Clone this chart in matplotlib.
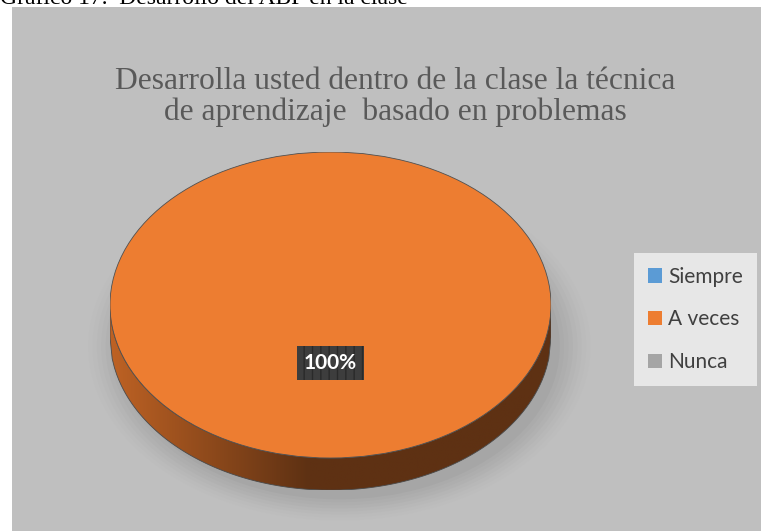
import numpy as np
import matplotlib.pyplot as plt
from matplotlib.patches import Rectangle, Polygon, Ellipse

categories = ["Siempre", "A veces", "Nunca"]
values = [0, 100, 0]
colors = ["#5b9bd5", "#ed7d31", "#a5a5a5"]
chart_title = "Desarrolla usted dentro de la clase la técnica\nde aprendizaje  basado en problemas"
caption = "Gráfico 17.  Desarrollo del ABP en la clase"

W, H = 761, 531
fig = plt.figure(figsize=(W / 100, H / 100), dpi=100)
fig.patch.set_facecolor("white")


def px(x0, y0, x1, y1):
    # pixel box (top-left origin) -> figure rect
    return [x0 / W, 1 - y1 / H, (x1 - x0) / W, (y1 - y0) / H]


# gray chart area
bg = fig.add_axes(px(12, 7, W, H), zorder=0)
bg.set_axis_off()
bg.add_patch(Rectangle((0, 0), 1, 1, transform=bg.transAxes,
                       facecolor="#bfbfbf", edgecolor="none"))

fig.text(0.0, 1 - 4 / H, caption, family="Liberation Serif", fontsize=17,
         color="black", va="baseline", ha="left")
fig.text(395 / W, 1 - 120 / H, chart_title, family="Liberation Serif",
         fontsize=22.7, color="#595959", ha="center", va="baseline",
         linespacing=1.05)

# pie axes: top face ellipse spans 110..551 x, 152..458 y, side depth to 490
depth = 0.21
ax = fig.add_axes(px(110, 152, 551, 152 + 306 + 306 * depth / 2), zorder=2)
ax.set_axis_off()
ax.patch.set_visible(False)

# soft shadow under the pie
for i, a in enumerate(np.linspace(0.06, 0.015, 8)):
    s = 1 + i * 0.02
    ax.add_patch(Ellipse((0.04, -depth - 0.06), 2 * s, 2 * s, facecolor="#6e6e6e",
                         alpha=a, edgecolor="none", zorder=0, clip_on=False))

# side of the 3D disk with a horizontal gradient
xs = np.linspace(-1, 1, 200)
lower = -np.sqrt(1 - xs ** 2)
side = np.concatenate([np.c_[xs, lower], np.c_[xs[::-1], lower[::-1] - depth]])
poly = Polygon(side, closed=True, facecolor="none", edgecolor="#4a4a4a",
               linewidth=0.6, zorder=2)
ax.add_patch(poly)
grad = np.linspace(0, 1, 256)
c_left = np.array([190, 98, 36]) / 255
c_dark = np.array([94, 49, 19]) / 255
t = np.clip(grad / 0.45, 0, 1)[:, None]
img = (c_left * (1 - t) + c_dark * t)[None, :, :]
im = ax.imshow(img, extent=[-1, 1, -1 - depth, 0], aspect="auto", zorder=1)
im.set_clip_path(poly)

wedges, texts, autotexts = ax.pie(
    values, colors=colors, startangle=90, counterclock=False, radius=1,
    autopct=lambda p: f"{p:.0f}%" if p > 1 else "", pctdistance=0.38,
    wedgeprops=dict(linewidth=0),
    textprops=dict(color="white", fontsize=15, weight="bold", family="Lato"))
for w in wedges:
    w.set_zorder(3)
ax.add_patch(Ellipse((0, 0), 2, 2, facecolor="none", edgecolor="#505050",
                     linewidth=0.6, zorder=4))
for t_ in autotexts:
    t_.set_zorder(5)
    t_.set_bbox(dict(boxstyle="square,pad=0.35", facecolor="#3d3d3d",
                     edgecolor="#2a2a2a", hatch="||", linewidth=0))

ax.set_aspect("auto")
ax.set_xlim(-1, 1)
ax.set_ylim(-1 - depth, 1)

# legend
leg = fig.legend(wedges, categories, loc="upper left",
                 bbox_to_anchor=(634 / W, 1 - 253 / H), frameon=True,
                 prop=dict(family="Lato", size=15), handlelength=0.7,
                 handleheight=0.7, handletextpad=0.3, labelspacing=1.1,
                 borderpad=0.65, borderaxespad=0)
leg.set_zorder(6)
leg.get_frame().set_facecolor("#f2f2f2")
leg.get_frame().set_edgecolor("none")
leg.get_frame().set_boxstyle("square,pad=0")
for txt in leg.get_texts():
    txt.set_color("#404040")
for h in leg.legend_handles:
    h.set_edgecolor("none")

fig.savefig("out.png", dpi=100)
